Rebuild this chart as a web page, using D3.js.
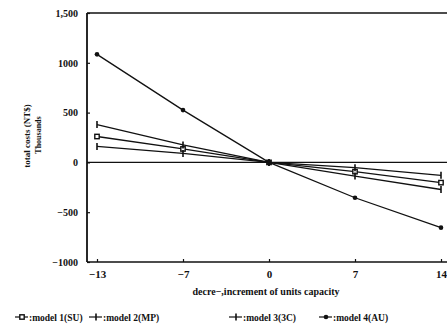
<!DOCTYPE html>
<html>
<head>
<meta charset="utf-8">
<script src="https://cdn.jsdelivr.net/npm/d3@7"></script>
<style>
  body { margin: 0; background: #fff; }
  svg text { font-family: "Liberation Serif", "DejaVu Serif", serif; font-weight: bold; fill: #111; }
</style>
</head>
<body>
<svg width="447" height="327"></svg>
<script>
// data (thousands NT$)
var categories = ["-13", "-7", "0", "7", "14"];
var model1 = [260, 135, 0, -93, -203];    // SU
var model2 = [380, 175, 0, -137, -272];   // MP
var model3 = [160, 90, 0, -53, -130];     // 3C
var model4 = [1085, 525, 0, -355, -655];  // AU
var yTicks = [1500, 1000, 500, 0, -500, -1000];
var yTickLabels = ["1,500", "1000", "500", "0", "\u2212500", "\u22121000"];
var xTickLabels = ["\u221213", "\u22127", "0", "7", "14"];

var series = [
  {name: ":model 1(SU)", values: model1, marker: "square"},
  {name: ":model 2(MP)", values: model2, marker: "plus"},
  {name: ":model 3(3C)", values: model3, marker: "plus"},
  {name: ":model 4(AU)", values: model4, marker: "dot"}
];

var svg = d3.select("svg");

var plotLeft = 87, plotRight = 447, plotTop = 13, plotBottom = 262;

var x = d3.scalePoint().domain(categories).range([97, 441]);
var y = d3.scaleLinear().domain([-1000, 1500]).range([plotBottom, plotTop]);

// frame: top line, left axis, bottom axis, zero line
var frame = svg.append("g").attr("stroke", "#111").attr("fill", "none");
frame.append("line").attr("x1", plotLeft).attr("x2", plotRight).attr("y1", plotTop).attr("y2", plotTop).attr("stroke-width", 1.6);
frame.append("line").attr("x1", plotLeft).attr("x2", plotRight).attr("y1", plotBottom).attr("y2", plotBottom).attr("stroke-width", 1.6);
frame.append("line").attr("x1", plotLeft).attr("x2", plotLeft).attr("y1", plotTop).attr("y2", plotBottom).attr("stroke-width", 1.8);
frame.append("line").attr("x1", plotLeft).attr("x2", plotRight).attr("y1", y(0)).attr("y2", y(0)).attr("stroke-width", 1.3);

// y axis
var yAxis = svg.append("g")
    .attr("transform", "translate(" + plotLeft + ",0)")
    .call(d3.axisLeft(y).tickValues(yTicks).tickSize(-3).tickPadding(9)
      .tickFormat(function(d, i) { return yTickLabels[i]; }));
yAxis.select(".domain").remove();
yAxis.selectAll("line").attr("stroke", "#111").attr("stroke-width", 1.2);
yAxis.selectAll("text").style("font-size", "10px").attr("fill", "#111");

// x axis
var xAxis = svg.append("g")
    .attr("transform", "translate(0," + plotBottom + ")")
    .call(d3.axisBottom(x).tickSize(-3).tickPadding(8)
      .tickFormat(function(d, i) { return xTickLabels[i]; }));
xAxis.select(".domain").remove();
xAxis.selectAll("line").attr("stroke", "#111").attr("stroke-width", 1.2);
xAxis.selectAll("text").style("font-size", "11px").attr("fill", "#111");

// axis titles
svg.append("text")
    .attr("x", 266).attr("y", 295)
    .attr("text-anchor", "middle")
    .style("font-size", "10px")
    .text("decre\u2212,increment of units capacity");

svg.append("text")
    .attr("transform", "translate(30,136) rotate(-90)")
    .attr("text-anchor", "middle")
    .style("font-size", "9px")
    .text("total costs (NT$)");

svg.append("text")
    .attr("transform", "translate(41,135) rotate(-90)")
    .attr("text-anchor", "middle")
    .style("font-size", "8px")
    .text("Thousands");

// lines
var line = d3.line()
    .x(function(d, i) { return x(categories[i]); })
    .y(function(d) { return y(d); });

function drawMarker(g, type, cx, cy) {
  if (type === "dot") {
    g.append("circle").attr("cx", cx).attr("cy", cy).attr("r", 2.3).attr("fill", "#111");
  } else if (type === "square") {
    g.append("rect").attr("x", cx - 2.2).attr("y", cy - 2.2).attr("width", 4.4).attr("height", 4.4)
      .attr("fill", "#fff").attr("stroke", "#111").attr("stroke-width", 1.4);
  } else {
    g.append("line").attr("x1", cx).attr("x2", cx).attr("y1", cy - 3.5).attr("y2", cy + 3.5)
      .attr("stroke", "#111").attr("stroke-width", 1.6);
  }
}

series.forEach(function(s) {
  svg.append("path")
      .datum(s.values)
      .attr("d", line)
      .attr("fill", "none")
      .attr("stroke", "#111")
      .attr("stroke-width", 1.3);
  var g = svg.append("g");
  s.values.forEach(function(v, i) {
    drawMarker(g, s.marker, x(categories[i]), y(v));
  });
});

// legend
var legendX = [12, 86, 226, 316];
var legend = svg.append("g").attr("transform", "translate(0,317)");
series.forEach(function(s, i) {
  var g = legend.append("g").attr("transform", "translate(" + legendX[i] + ",0)");
  g.append("line").attr("x1", 3).attr("x2", 16).attr("y1", 0).attr("y2", 0)
    .attr("stroke", "#111").attr("stroke-width", 1.2);
  drawMarker(g, s.marker, 10, 0);
  g.append("text").attr("x", 17).attr("y", 3.5)
    .style("font-size", "9.5px")
    .text(s.name);
});
</script>
</body>
</html>
